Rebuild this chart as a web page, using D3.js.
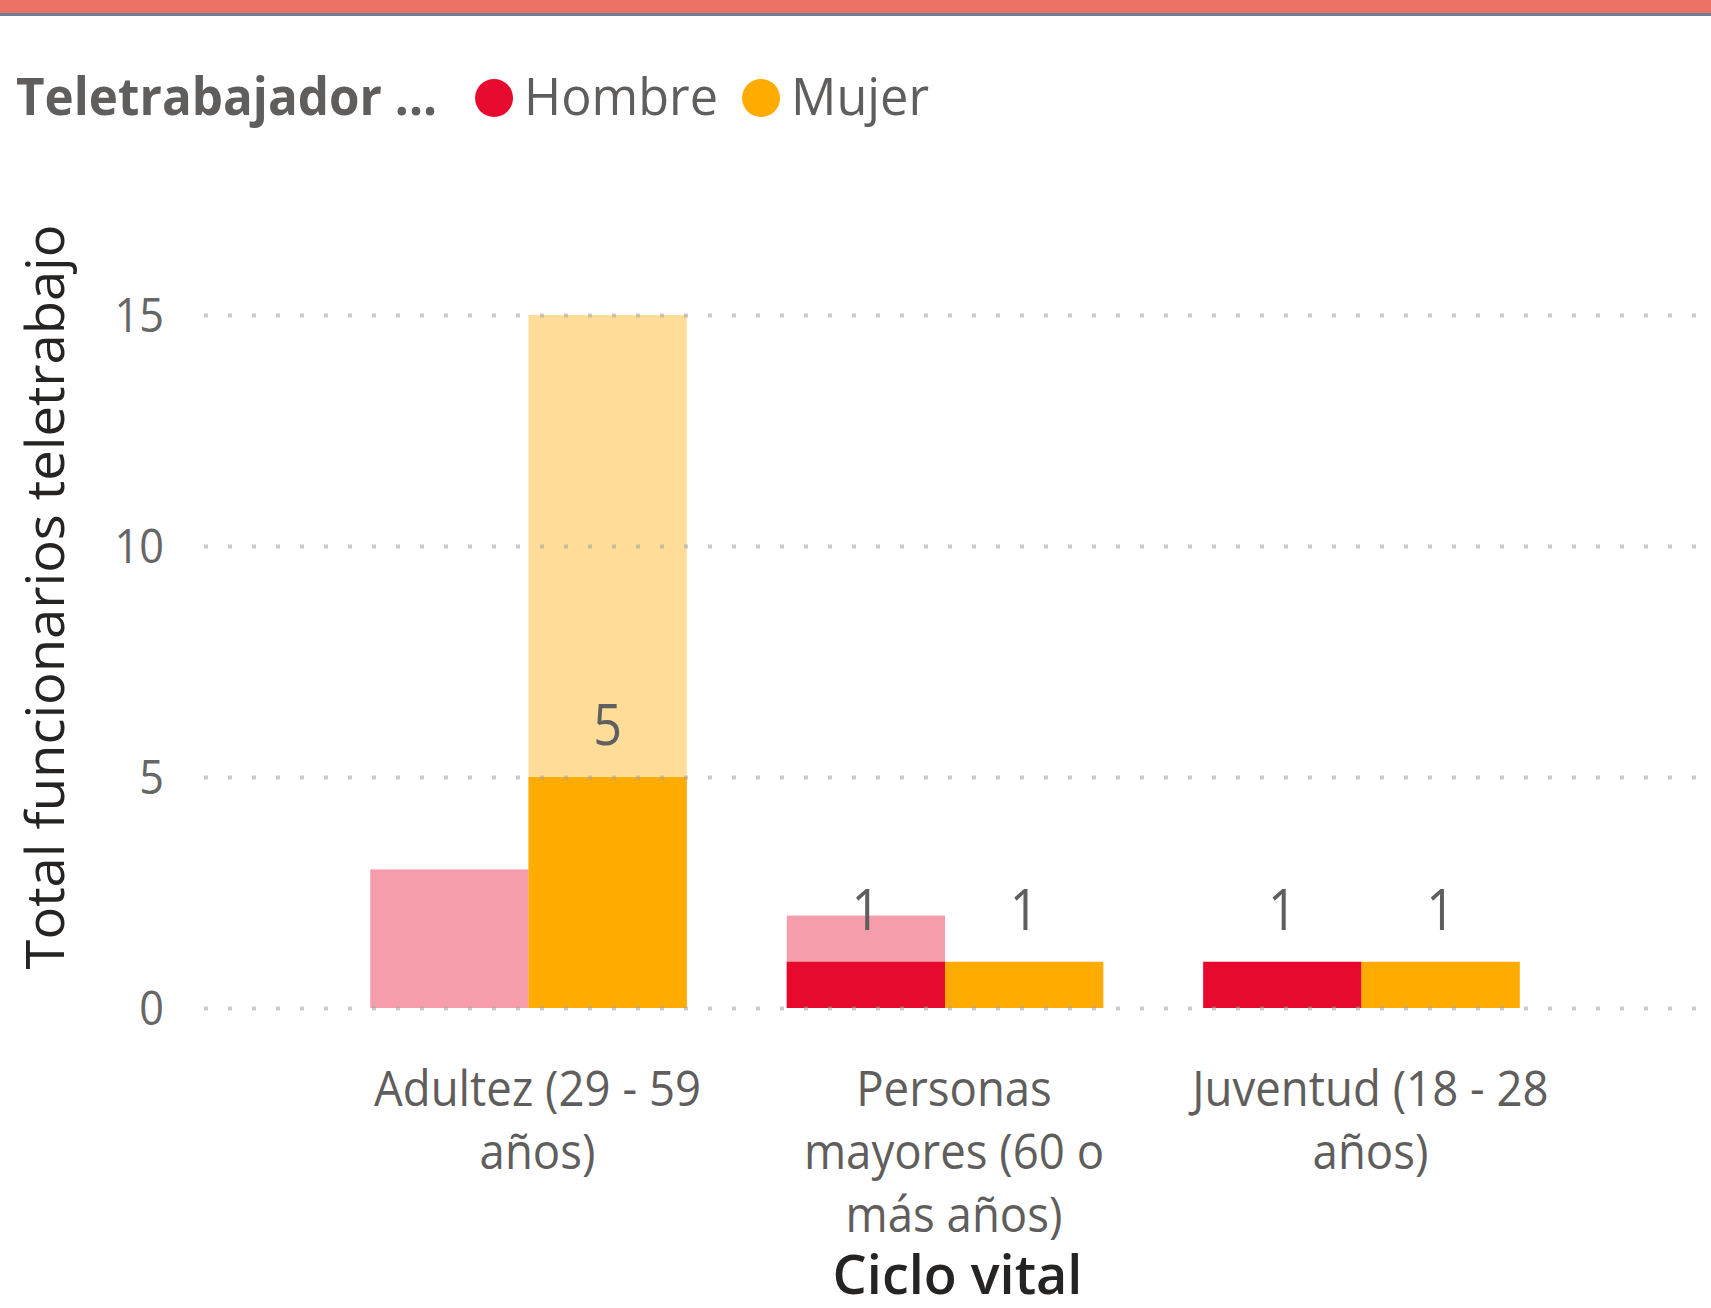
<!DOCTYPE html>
<html>
<head>
<meta charset="utf-8">
<script src="https://cdn.jsdelivr.net/npm/d3@7"></script>
<style>
  body { margin: 0; background: #fff; }
  text { font-family: "Open Sans", "Noto Sans", sans-serif; }
</style>
</head>
<body>
<script>
// chart data
const categories = ["Adultez (29 - 59 años)", "Personas mayores (60 o más años)", "Juventud (18 - 28 años)"];
const categoryLines = [["Adultez (29 - 59", "años)"], ["Personas", "mayores (60 o", "más años)"], ["Juventud (18 - 28", "años)"]];
const series = ["Hombre", "Mujer"];
const seriesColors = ["#E8092E", "#FFAB00"];
// full totals (faded) and highlighted values (solid)
const hombreTotal = [3, 2, 1];
const hombreSel = [0, 1, 1];
const mujerTotal = [15, 1, 1];
const mujerSel = [5, 1, 1];
const yTicks = [0, 5, 10, 15];

const W = 1711, H = 1308;
const plotLeft = 204;

const svg = d3.select("body")
    .append("svg")
    .attr("width", W)
    .attr("height", H);

svg.append("rect").attr("width", W).attr("height", H).attr("fill", "#fff");

// header band
svg.append("rect").attr("width", W).attr("height", 13).attr("fill", "#EC7263");
svg.append("rect").attr("y", 13).attr("width", W).attr("height", 3).attr("fill", "#6F7E98");

const color = d3.scaleOrdinal().domain(series).range(seriesColors);

const x0 = d3.scaleBand()
    .domain(categories)
    .range([162, 1728])
    .paddingInner(0.24)
    .paddingOuter(0.5);

const x1 = d3.scaleBand()
    .domain(series)
    .range([0, x0.bandwidth()]);

const y = d3.scaleLinear()
    .domain([0, 15])
    .range([1008, 315]);

const rows = categories.map((c, i) => ({
    cat: c,
    values: [
        { s: "Hombre", total: hombreTotal[i], sel: hombreSel[i] },
        { s: "Mujer", total: mujerTotal[i], sel: mujerSel[i] }
    ]
}));

const groups = svg.append("g")
    .selectAll("g")
    .data(rows)
    .join("g")
    .attr("transform", d => `translate(${x0(d.cat)},0)`);

// faded totals
groups.selectAll("rect.total")
    .data(d => d.values)
    .join("rect")
    .attr("class", "total")
    .attr("x", d => x1(d.s))
    .attr("y", d => y(d.total))
    .attr("width", x1.bandwidth())
    .attr("height", d => y(0) - y(d.total))
    .attr("fill", d => color(d.s))
    .attr("opacity", 0.4);

// highlighted values
groups.selectAll("rect.sel")
    .data(d => d.values.filter(v => v.sel > 0))
    .join("rect")
    .attr("class", "sel")
    .attr("x", d => x1(d.s))
    .attr("y", d => y(d.sel))
    .attr("width", x1.bandwidth())
    .attr("height", d => y(0) - y(d.sel))
    .attr("fill", d => color(d.s));

// data labels
groups.selectAll("text.lbl")
    .data(d => d.values.filter(v => v.sel > 0))
    .join("text")
    .attr("class", "lbl")
    .attr("transform", d => `translate(${x1(d.s) + x1.bandwidth() / 2},${y(d.sel) - 32}) scale(0.9,1)`)
    .attr("text-anchor", "middle")
    .style("font-size", "56px")
    .attr("fill", "#5F5F5F")
    .text(d => d.sel);

// y axis: dotted gridlines drawn above the bars
const yAxis = svg.append("g")
    .attr("transform", `translate(${plotLeft},0)`)
    .call(d3.axisLeft(y)
        .tickValues(yTicks)
        .tickSize(-(W - plotLeft))
        .tickFormat(d3.format("d")));

yAxis.select(".domain").remove();
yAxis.selectAll(".tick line")
    .attr("stroke", "#A0A0A0")
    .attr("stroke-opacity", 0.55)
    .attr("stroke-width", 4)
    .attr("stroke-dasharray", "4 20");
yAxis.selectAll(".tick text")
    .attr("x", 0)
    .attr("dy", null)
    .attr("transform", "translate(-40,16) scale(0.92,1)")
    .attr("text-anchor", "end")
    .attr("fill", "#666666")
    .style("font-family", "'Open Sans', 'Noto Sans', sans-serif")
    .style("font-size", "47px");

// category labels
const catLabels = svg.append("g")
    .selectAll("text")
    .data(rows)
    .join("text")
    .attr("transform", d => `translate(${x0(d.cat) + x0.bandwidth() / 2 + 9},1106) scale(0.93,1)`)
    .attr("text-anchor", "middle")
    .attr("fill", "#605E5C")
    .style("font-size", "49px");

catLabels.selectAll("tspan")
    .data((d, i) => categoryLines[i])
    .join("tspan")
    .attr("x", 0)
    .attr("dy", (d, i) => i === 0 ? 0 : 63)
    .text(d => d);

// axis titles
svg.append("text")
    .attr("transform", `translate(${(plotLeft + W) / 2},1294)`)
    .attr("text-anchor", "middle")
    .attr("fill", "#252423")
    .style("font-size", "54px")
    .style("font-weight", 600)
    .text("Ciclo vital");

svg.append("text")
    .attr("transform", "translate(64,597) scale(1,1.025) rotate(-90)")
    .attr("text-anchor", "middle")
    .attr("fill", "#252423")
    .style("font-size", "53px")
    .text("Total funcionarios teletrabajo");

// legend
const legend = svg.append("g");
const legendTitle = legend.append("text")
    .attr("transform", "translate(16,115) scale(0.95,1)")
    .attr("fill", "#605E5C")
    .style("font-size", "52px")
    .style("font-weight", 700)
    .text("Teletrabajador ...");

let lx = 16 + legendTitle.node().getComputedTextLength() * 0.95 + 38;
series.forEach(s => {
    legend.append("circle")
        .attr("cx", lx + 19)
        .attr("cy", 98)
        .attr("r", 19)
        .attr("fill", color(s));
    const t = legend.append("text")
        .attr("transform", `translate(${lx + 49},115) scale(0.97,1)`)
        .attr("fill", "#605E5C")
        .style("font-size", "52px")
        .text(s);
    lx += 49 + t.node().getComputedTextLength() * 0.97 + 24;
});
</script>
</body>
</html>
